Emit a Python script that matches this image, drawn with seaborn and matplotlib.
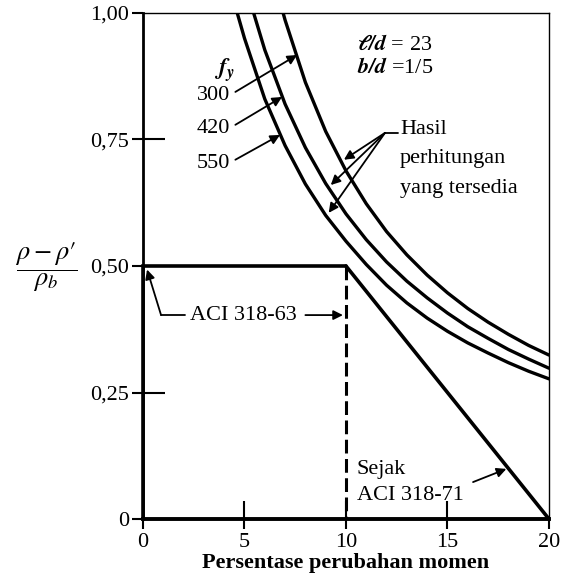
import matplotlib
matplotlib.use("Agg")
import matplotlib.pyplot as plt
import pandas as pd
import seaborn as sns

# ---- data ----
fy_levels = ["300", "420", "550"]
x_300 = [6.8, 7, 8, 9, 10, 11, 12, 13, 14, 15, 16, 17, 18, 19, 20]
y_300 = [1.015, 0.986, 0.863, 0.766, 0.688, 0.623, 0.568, 0.522, 0.482, 0.447, 0.416, 0.389, 0.365, 0.343, 0.324]
x_420 = [5.3, 6, 7, 8, 9, 10, 11, 12, 13, 14, 15, 16, 17, 18, 19, 20]
y_420 = [1.02, 0.927, 0.82, 0.734, 0.663, 0.603, 0.552, 0.508, 0.47, 0.437, 0.407, 0.38, 0.357, 0.335, 0.316, 0.298]
x_550 = [4.5, 5, 6, 7, 8, 9, 10, 11, 12, 13, 14, 15, 16, 17, 18, 19, 20]
y_550 = [1.02, 0.95, 0.83, 0.738, 0.662, 0.6, 0.549, 0.503, 0.462, 0.427, 0.397, 0.371, 0.348, 0.328, 0.309, 0.292, 0.277]

aci63_x = [0, 0, 10]
aci63_y = [0, 0.5, 0.5]
aci63_dash_x = [10, 10]
aci63_dash_y = [0.5, 0]
aci71_x = [10, 20]
aci71_y = [0.5, 0]

xticks = [0, 5, 10, 15, 20]
xtick_labels = ["0", "5", "10", "15", "20"]
yticks = [0, 0.25, 0.5, 0.75, 1.0]
ytick_labels = ["0", "0,25", "0,50", "0,75", "1,00"]

# ---- style ----
sns.set_theme(style="ticks")
plt.rcParams["font.family"] = ["Liberation Serif", "DejaVu Serif"]
plt.rcParams["mathtext.fontset"] = "stix"
plt.rcParams["text.color"] = "black"
FS = 16

fig = plt.figure(figsize=(5.67, 5.77), dpi=100)
ax = fig.add_axes([0.2522, 0.1005, 0.716, 0.877])

df = pd.DataFrame({
    "x": x_300 + x_420 + x_550,
    "y": y_300 + y_420 + y_550,
    "fy": ["300"] * len(x_300) + ["420"] * len(x_420) + ["550"] * len(x_550),
})
sns.lineplot(data=df, x="x", y="y", hue="fy", hue_order=fy_levels,
             palette={k: "black" for k in fy_levels}, linewidth=2.4,
             estimator=None, sort=False, legend=False, ax=ax)

ax.plot(aci63_x, aci63_y, color="black", lw=2.6, solid_joinstyle="miter", clip_on=False)
ax.plot(aci63_dash_x, aci63_dash_y, color="black", lw=2.2, dashes=(4.5, 1.8))
ax.plot(aci71_x, aci71_y, color="black", lw=2.6, clip_on=False)

ax.set_xlim(0, 20)
ax.set_ylim(0, 1)
ax.set_xlabel("Persentase perubahan momen", fontsize=FS, fontweight="bold", labelpad=1, color="black")
ax.set_ylabel("")

ax.set_xticks(xticks, xtick_labels)
ax.set_yticks(yticks, ytick_labels)
ax.xaxis.remove_overlapping_locs = False
ax.yaxis.remove_overlapping_locs = False
ax.set_xticks([5, 10, 15], minor=True)
ax.set_yticks([0.25, 0.75], minor=True)
ax.tick_params(axis="both", which="both", colors="black", width=1.5, labelsize=FS)
ax.tick_params(axis="y", which="major", direction="out", length=8, pad=2, left=True)
ax.tick_params(axis="y", which="minor", direction="in", length=16, left=True)
ax.tick_params(axis="x", which="major", direction="out", length=7, pad=3, bottom=True)
ax.tick_params(axis="x", which="minor", direction="in", length=13, bottom=True)

for s in ["top", "right"]:
    ax.spines[s].set_linewidth(1.0)
ax.spines["left"].set_linewidth(2.0)
ax.spines["bottom"].set_linewidth(2.8)
for s in ax.spines.values():
    s.set_color("black")

# y label as fraction
fig.text(46 / 567, 1 - 267 / 577, r"$\dfrac{\rho-\rho\prime}{\rho_b}$",
         fontsize=19, ha="center", va="center")

arrow = dict(arrowstyle="-|>", color="black", lw=1.3, mutation_scale=14, shrinkA=0, shrinkB=0)

# f_y labels
ax.text(4.0, 0.887, r"$\mathbfit{f}_{\mathbfit{y}}$", fontsize=FS + 1, ha="center", va="center")
for lab, ty, head in [("300", 0.836, (7.59, 0.917)),
                      ("420", 0.771, (6.85, 0.834)),
                      ("550", 0.702, (6.75, 0.759))]:
    ax.text(4.3, ty, lab, fontsize=FS, ha="right", va="center")
    ax.annotate("", xy=head, xytext=(4.55, ty + 0.008), arrowprops=arrow)

# parameters
ax.text(10.54, 0.937, r"$\mathbfit{\ell/d}$ = 23", fontsize=FS, ha="left", va="center")
ax.text(10.54, 0.891, r"$\mathbfit{b/d}$ =1/5", fontsize=FS, ha="left", va="center")

# Hasil perhitungan
ax.text(12.66, 0.769, "Hasil", fontsize=FS, ha="left", va="center")
ax.text(12.66, 0.712, "perhitungan", fontsize=FS, ha="left", va="center")
ax.text(12.66, 0.654, "yang tersedia", fontsize=FS, ha="left", va="center")
ax.plot([11.92, 12.56], [0.763, 0.763], color="black", lw=1.3)
for head in [(9.9, 0.71), (9.25, 0.66), (9.15, 0.605)]:
    ax.annotate("", xy=head, xytext=(11.92, 0.763), arrowprops=arrow)

# ACI 318-63
ax.text(2.32, 0.403, "ACI 318-63", fontsize=FS, ha="left", va="center")
ax.annotate("", xy=(9.85, 0.403), xytext=(8.0, 0.403), arrowprops=arrow)
ax.plot([2.07, 0.89], [0.403, 0.403], color="black", lw=1.3)
ax.annotate("", xy=(0.2, 0.493), xytext=(0.89, 0.403), arrowprops=arrow)

# Sejak ACI 318-71
ax.text(10.54, 0.097, "Sejak", fontsize=FS, ha="left", va="center")
ax.text(10.54, 0.047, "ACI 318-71", fontsize=FS, ha="left", va="center")
ax.annotate("", xy=(17.9, 0.099), xytext=(16.26, 0.073), arrowprops=arrow)

fig.savefig("out.png", dpi=100, facecolor="white")
